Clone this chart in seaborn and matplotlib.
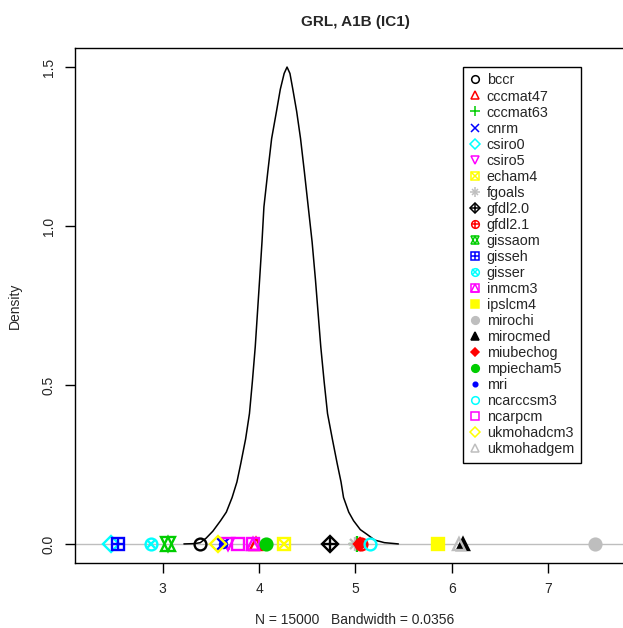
import numpy as np
import pandas as pd
import seaborn as sns
import matplotlib.pyplot as plt
from matplotlib.lines import Line2D

# density curve
curve_x = [3.22, 3.33, 3.39, 3.45, 3.52, 3.60, 3.66, 3.72, 3.77, 3.81, 3.86, 3.90,
           3.93, 3.96, 4.005, 4.03, 4.05, 4.09, 4.13, 4.18, 4.22, 4.26, 4.29, 4.32,
           4.35, 4.39, 4.43, 4.47, 4.51, 4.55, 4.585, 4.64, 4.675, 4.71, 4.76, 4.81,
           4.85, 4.876, 4.93, 4.98, 5.05, 5.12, 5.20, 5.30, 5.445]
curve_y = [0.0, 0.001, 0.004, 0.018, 0.04, 0.073, 0.10, 0.146, 0.195, 0.253, 0.33, 0.41,
           0.51, 0.62, 0.83, 0.95, 1.06, 1.17, 1.275, 1.36, 1.43, 1.48, 1.50, 1.48,
           1.43, 1.36, 1.275, 1.17, 1.06, 0.95, 0.83, 0.62, 0.51, 0.41, 0.33, 0.253,
           0.195, 0.146, 0.10, 0.073, 0.045, 0.03, 0.012, 0.004, 0.0]

# one value per model, drawn on the zero line
models = ["bccr", "cccmat47", "cccmat63", "cnrm", "csiro0", "csiro5", "echam4",
          "fgoals", "gfdl2.0", "gfdl2.1", "gissaom", "gisseh", "gisser", "inmcm3",
          "ipslcm4", "mirochi", "mirocmed", "miubechog", "mpiecham5", "mri",
          "ncarccsm3", "ncarpcm", "ukmohadcm3", "ukmohadgem"]
model_vals = [3.39, 3.97, 5.02, 3.63, 2.46, 3.68, 4.26, 5.00, 4.74, 5.06, 3.06, 2.54,
              2.88, 3.94, 5.86, 7.48, 6.12, 5.05, 4.07, 3.63, 5.15, 3.78, 3.57, 6.07]

# R default palette, recycled
palette = ["#000000", "#FF0000", "#00CD00", "#0000FF", "#00FFFF", "#FF00FF",
           "#FFFF00", "#BEBEBE"]

# R pch 1..24 as overlays of matplotlib markers: (marker, filled, scale)
pch_parts = {
    1: [("o", False, 1.0)],
    2: [("^", False, 1.1)],
    3: [("+", False, 1.3)],
    4: [("x", False, 1.0)],
    5: [("D", False, 1.0)],
    6: [("v", False, 1.1)],
    7: [("s", False, 1.0), ("x", False, 1.0)],
    8: [("+", False, 1.2), ("x", False, 0.9)],
    9: [("D", False, 1.0), ("+", False, 1.35)],
    10: [("o", False, 1.0), ("+", False, 1.0)],
    11: [("^", False, 1.15), ("v", False, 1.15)],
    12: [("s", False, 1.0), ("+", False, 1.05)],
    13: [("o", False, 1.0), ("x", False, 0.75)],
    14: [("s", False, 1.0), ("^", False, 0.95)],
    15: [("s", True, 1.0)],
    16: [("o", True, 1.0)],
    17: [("^", True, 1.1)],
    18: [("D", True, 0.75)],
    19: [("o", True, 1.0)],
    20: [("o", True, 0.6)],
    21: [("o", False, 1.0)],
    22: [("s", False, 1.0)],
    23: [("D", False, 1.0)],
    24: [("^", False, 1.1)],
}


def pch_lines(pch, color, size, mew):
    lines = []
    for marker, filled, scale in pch_parts[pch]:
        lines.append(Line2D([], [], ls="none", marker=marker, markersize=size * scale,
                            markeredgecolor=color, markeredgewidth=mew,
                            markerfacecolor=color if filled else "none"))
    return lines


sns.set_style("white")
plt.rcParams["font.family"] = ["Liberation Sans", "DejaVu Sans"]

fig = plt.figure(figsize=(6.23, 6.28), dpi=100)
ax = fig.add_axes([75 / 623, 65 / 628, 560 / 623, 515 / 628])

ax.axhline(0, color="#BEBEBE", lw=1, zorder=1)
curve = pd.DataFrame({"x": curve_x, "y": curve_y})
sns.lineplot(data=curve, x="x", y="y", color="black", lw=1.1, ax=ax, zorder=2)

handles = []
for i, (name, v) in enumerate(zip(models, model_vals)):
    pch = i + 1
    col = palette[i % len(palette)]
    for part in pch_lines(pch, col, 8.5, 1.7):
        part.set_data([v], [0])
        part.set_zorder(3 + i)
        ax.add_line(part)
    handles.append(tuple(pch_lines(pch, col, 5.5, 1.1)))

ax.legend(handles, models, loc="upper left",
          bbox_to_anchor=(463 / 623, 1 - 67 / 628), bbox_transform=fig.transFigure,
          borderaxespad=0, fancybox=False, framealpha=1, edgecolor="black",
          fontsize=10.4, labelspacing=0.14, handlelength=0.8, handletextpad=0.4,
          borderpad=0.45)
ax.get_legend().get_frame().set_linewidth(1)

ax.set_xlim(2.09, 7.90)
ax.set_ylim(-0.06, 1.56)
ax.set_xticks([3, 4, 5, 6, 7])
ax.set_yticks([0.0, 0.5, 1.0, 1.5])
ax.set_yticklabels(["0.0", "0.5", "1.0", "1.5"], rotation=90, va="center")
ax.tick_params(axis="both", direction="out", length=7, width=1, color="black",
               labelsize=10, pad=7, left=True, bottom=True)
for s in ax.spines.values():
    s.set_color("black")
    s.set_linewidth(1)

ax.set_xlabel("N = 15000   Bandwidth = 0.0356", fontsize=10, labelpad=12)
ax.set_ylabel("Density", fontsize=10, labelpad=14)
fig.text(355 / 623, 1 - 22 / 628, "GRL, A1B (IC1)", ha="center", va="center",
         fontsize=11, fontweight="bold")

fig.savefig("out.png", dpi=100)
